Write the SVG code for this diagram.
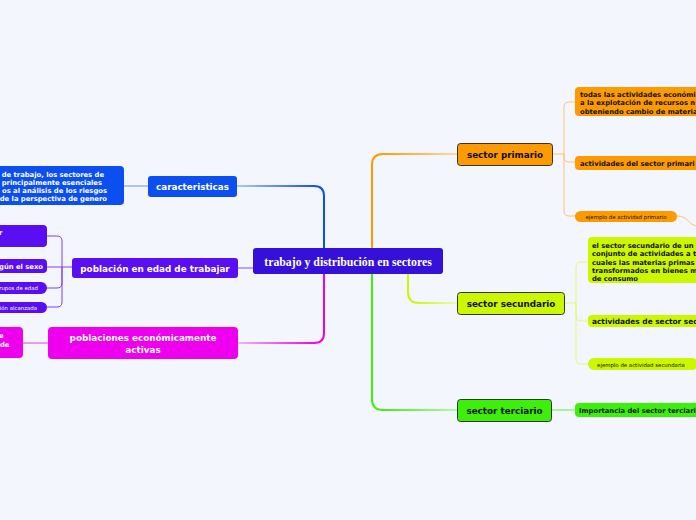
<svg xmlns="http://www.w3.org/2000/svg" width="696" height="520" viewBox="0 0 696 520">
<style>
.t{font-family:"DejaVu Sans",Verdana,sans-serif;font-weight:bold}
.w{fill:#fff}.k{fill:#111}
.l1{font-size:8.8px;text-anchor:middle}
.c{font-size:6.8px}
.s{font-family:"DejaVu Sans",Verdana,sans-serif;font-size:5.4px;text-anchor:middle}
.sec{stroke:#333;stroke-width:1}
.mc{fill:none;stroke-width:2}
.cc{fill:none;stroke-width:1}
</style>
<defs>
<linearGradient id="gB" gradientUnits="userSpaceOnUse" x1="318" y1="0" x2="237" y2="0"><stop offset="0" stop-color="#0c4ff0"/><stop offset="1" stop-color="#b3c6fa"/></linearGradient>
<linearGradient id="gO" gradientUnits="userSpaceOnUse" x1="378" y1="0" x2="457" y2="0"><stop offset="0" stop-color="#fd9a00"/><stop offset="1" stop-color="#fdd9a6"/></linearGradient>
<linearGradient id="gL" gradientUnits="userSpaceOnUse" x1="414" y1="0" x2="457" y2="0"><stop offset="0" stop-color="#ccf700"/><stop offset="1" stop-color="#ecfbb0"/></linearGradient>
<linearGradient id="gG" gradientUnits="userSpaceOnUse" x1="378" y1="0" x2="457" y2="0"><stop offset="0" stop-color="#3cf00a"/><stop offset="1" stop-color="#b5f9a6"/></linearGradient>
<linearGradient id="gM" gradientUnits="userSpaceOnUse" x1="318" y1="0" x2="238" y2="0"><stop offset="0" stop-color="#ee00ee"/><stop offset="1" stop-color="#f6b0f6"/></linearGradient>
</defs>
<rect width="696" height="520" fill="#f4f6fe"/>
<g id="connectors">
<path class="mc" stroke="url(#gB)" d="M324,248 V196 Q324,186 314,186 H237"/>
<path class="mc" stroke="url(#gO)" d="M372,248 V165 Q372,154 383,154 H457"/>
<path class="mc" stroke="url(#gL)" d="M408,274 V292 Q408,303 419,303 H457"/>
<path class="mc" stroke="url(#gG)" d="M372,274 V399 Q372,410 383,410 H457"/>
<path class="mc" stroke="url(#gM)" d="M324,274 V333 Q324,343 314,343 H238"/>
<path class="mc" stroke="#b9a3f7" d="M253,268 H237"/>
<path class="cc" stroke="#6c90f4" d="M148,186 H124"/>
<g stroke="#fcc370">
<path class="cc" d="M552,154 H564 M564,154 V107 Q564,102 569,102 H575 M564,154 V157 Q564,162 569,162 H575 M564,154 V211 Q564,216 569,216 H575"/>
<path class="cc" d="M677,216 C688,216 688,224 696,226"/>
</g>
<path class="cc" stroke="#e0f970" d="M564,303 H576 M576,303 V267 Q576,262 581,262 H588 M576,303 V316 Q576,321 581,321 H588 M576,303 V359 Q576,364 581,364 H588"/>
<path class="cc" stroke="#5cf03a" d="M551,410 H575"/>
<path class="cc" stroke="#7a40f5" d="M72,267 H62 M62,267 V241 Q62,236 57,236 H47 M62,267 H47 M62,267 V283 Q62,288 57,288 H47 M62,267 V302 Q62,307 57,307 H47"/>
<path class="cc" stroke="#e040e0" d="M48,343 H23"/>
</g>
<g id="central">
<rect x="253" y="248" width="190" height="26" rx="3" fill="#3410d9"/>
<text x="348" y="265.5" fill="#fff" font-family="'Liberation Serif','Times New Roman',serif" font-weight="bold" font-size="11.8" text-anchor="middle">trabajo y distribución en sectores</text>
</g>
<g id="caracteristicas">
<rect x="148" y="176" width="89" height="21" rx="3" fill="#0c4ff0"/>
<text class="t w l1" x="192.5" y="189.5">caracteristicas</text>
</g>
<g id="caracteristicas-detalle">
<rect x="-10" y="166" width="134" height="39" rx="4" fill="#0c4ff0"/>
<g class="t w c" text-anchor="end">
<text x="104" y="176.5">de trabajo, los sectores de</text>
<text x="102" y="184.8">principalmente esenciales</text>
<text x="107" y="193.1">os al análisis de los riesgos</text>
<text x="107" y="201.4">de la perspectiva de genero</text>
</g>
</g>
<g id="poblacion-edad">
<rect x="72" y="258" width="166" height="20" rx="3" fill="#5a0ef2"/>
<text class="t w l1" x="155" y="271.5">población en edad de trabajar</text>
</g>
<g id="pob-a">
<rect x="-10" y="225" width="57" height="22" rx="4" fill="#5a0ef2"/>
<text class="t w c" x="-1" y="235">r</text>
</g>
<g id="pob-b">
<rect x="-10" y="259" width="57" height="14" rx="4" fill="#5a0ef2"/>
<text class="t w c" x="43" y="268.8" text-anchor="end">gún el sexo</text>
</g>
<g id="pob-c">
<rect x="-10" y="282" width="57" height="12" rx="6" fill="#5a0ef2"/>
<text class="s w" x="38" y="290" style="text-anchor:end">rupos de edad</text>
</g>
<g id="pob-d">
<rect x="-10" y="302" width="57" height="11" rx="5.5" fill="#5a0ef2"/>
<text class="s w" x="37" y="309.5" style="text-anchor:end">ción alcanzada</text>
</g>
<g id="poblaciones-activas">
<rect x="48" y="327" width="190" height="32" rx="4" fill="#ee00ee"/>
<text class="t w l1" x="143" y="341">poblaciones económicamente</text>
<text class="t w l1" x="143" y="352.5">activas</text>
</g>
<g id="activas-detalle">
<rect x="-10" y="327" width="33" height="31" rx="4" fill="#ee00ee"/>
<text class="t w c" x="-1" y="337.5">e</text>
<text class="t w c" x="0" y="346.5">de</text>
</g>
<g id="sector-primario">
<rect class="sec" x="457.5" y="143.5" width="95" height="22" rx="3" fill="#fd9a00"/>
<text class="t k l1" x="505" y="157.5">sector primario</text>
</g>
<g id="primario-def">
<rect x="575" y="87" width="130" height="29" rx="4" fill="#fd9a00"/>
<g class="t k c">
<text x="580" y="96.5">todas las actividades económi</text>
<text x="580" y="105">a la explotación de recursos n</text>
<text x="580" y="113.5">obteniendo cambio de materia</text>
</g>
</g>
<g id="primario-actividades">
<rect x="575" y="156" width="130" height="14" rx="4" fill="#fd9a00"/>
<text class="t k c" x="580" y="165.5">actividades del sector primari</text>
</g>
<g id="primario-ejemplo">
<rect x="575" y="211" width="102" height="11" rx="5.5" fill="#fd9a00"/>
<text class="s k" x="626" y="218.5">ejemplo de actividad primario</text>
</g>
<g id="sector-secundario">
<rect class="sec" x="457.5" y="292.5" width="107" height="22" rx="3" fill="#ccf700"/>
<text class="t k l1" x="511" y="306.5">sector secundario</text>
</g>
<g id="secundario-def">
<rect x="588" y="237" width="120" height="46" rx="4" fill="#ccf700"/>
<g class="t k c">
<text x="592" y="247.8">el sector secundario de un</text>
<text x="592" y="256.2">conjunto de actividades a t</text>
<text x="592" y="264.6">cuales las materias primas</text>
<text x="592" y="273">transformados en bienes m</text>
<text x="592" y="281">de consumo</text>
</g>
</g>
<g id="secundario-actividades">
<rect x="588" y="315" width="120" height="12" rx="4" fill="#ccf700"/>
<text class="t k" x="592" y="324.3" font-size="7.4">actividades de sector secu</text>
</g>
<g id="secundario-ejemplo">
<rect x="588" y="358" width="110" height="12" rx="6" fill="#ccf700"/>
<text class="s k" x="641" y="366.5">ejemplo de actividad secundaria</text>
</g>
<g id="sector-terciario">
<rect class="sec" x="457.5" y="399.5" width="94" height="22" rx="3" fill="#3cf00a"/>
<text class="t k l1" x="504.5" y="413.5">sector terciario</text>
</g>
<g id="terciario-importancia">
<rect x="575" y="403" width="125" height="14" rx="4" fill="#3cf00a"/>
<text class="t k c" x="579" y="412.5">Importancia del sector terciari</text>
</g>
</svg>
